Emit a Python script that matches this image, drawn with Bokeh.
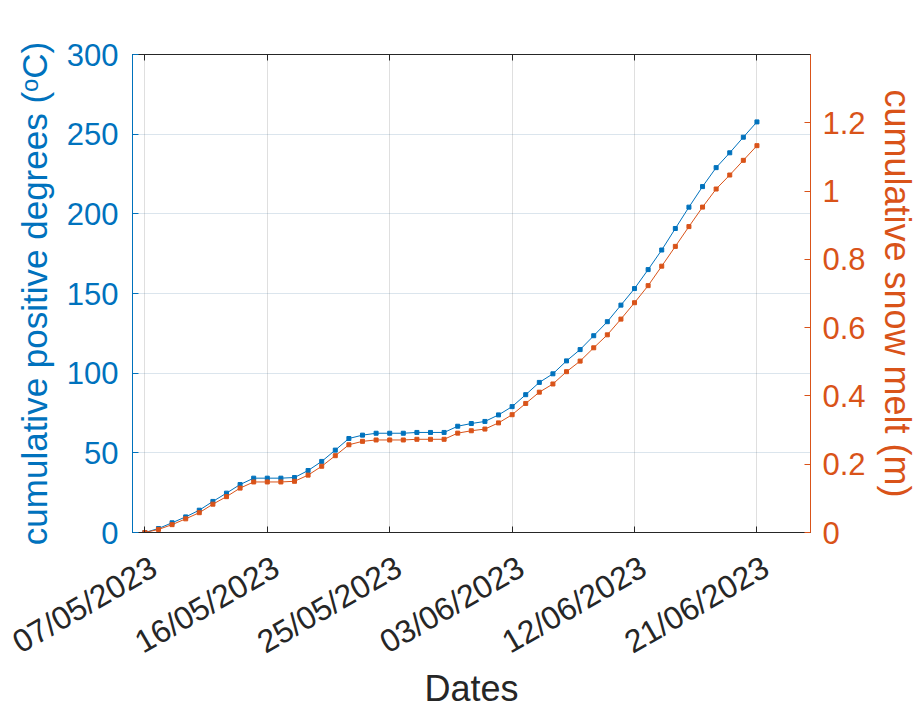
import math
import pandas as pd
from bokeh.plotting import figure
from bokeh.models import (Range1d, LinearAxis, DatetimeAxis, FixedTicker, DatetimeTickFormatter,
                          NumeralTickFormatter, CustomJSTickFormatter)
from bokeh.embed import file_html
from bokeh.resources import INLINE

# ---------------- data ----------------
start_date = "2023-05-07"
pdd = [0.0, 2.5, 6.1, 9.8, 14.0, 19.5, 24.7, 30.1, 34.1, 34.1,
       34.1, 34.5, 38.9, 44.6, 51.7, 59.0, 61.1, 62.3, 62.3, 62.3,
       62.8, 62.8, 62.8, 66.7, 68.4, 69.7, 73.8, 79.0, 86.5, 94.2,
       99.6, 107.7, 114.8, 123.5, 132.3, 142.7, 153.1, 165.0, 177.3, 190.8,
       204.2, 217.1, 229.0, 238.3, 248.1, 257.7]
melt = [0.0, 0.009, 0.023, 0.040, 0.058, 0.083, 0.105, 0.130, 0.148, 0.148,
        0.148, 0.150, 0.168, 0.194, 0.225, 0.257, 0.267, 0.271, 0.271, 0.271,
        0.273, 0.273, 0.273, 0.291, 0.298, 0.303, 0.321, 0.345, 0.378, 0.411,
        0.435, 0.471, 0.502, 0.541, 0.579, 0.625, 0.673, 0.723, 0.780, 0.838,
        0.896, 0.953, 1.006, 1.047, 1.090, 1.133]
x_tick_dates = ["2023-05-07", "2023-05-16", "2023-05-25", "2023-06-03",
                "2023-06-12", "2023-06-21"]
pdd_ticks = [0, 50, 100, 150, 200, 250, 300]
melt_ticks = [0, 0.2, 0.4, 0.6, 0.8, 1.0, 1.2]

dates = pd.date_range(start_date, periods=len(pdd), freq="D")

BLUE = "#0072BD"
ORANGE = "#D95319"
DARK = "#262626"
FONT = "Liberation Sans"

W, H = 920, 711
FL, FR, FT, FB = 132, 811, 54, 532      # frame edges (px)

x_start = pd.Timestamp("2023-05-06 02:10")
x_end = pd.Timestamp("2023-06-24 22:30")

p = figure(width=W, height=H, x_axis_type="datetime",
           x_range=Range1d(x_start, x_end), y_range=Range1d(0, 300),
           output_backend="svg", toolbar_location=None,
           min_border_left=FL, min_border_right=W - FR,
           min_border_top=FT, min_border_bottom=H - FB)
p.extra_y_ranges = {"melt": Range1d(0, 1.4)}
p.outline_line_color = DARK
p.outline_line_width = 1
p.background_fill_color = "white"
p.border_fill_color = "white"

tick_ms = [pd.Timestamp(t).value // 10**6 for t in x_tick_dates]
fmt = "%d/%m/%Y"
empty = CustomJSTickFormatter(code="return ''")

# bottom axis: tick marks only
xa = p.xaxis[0]
xa.ticker = FixedTicker(ticks=tick_ms)
xa.formatter = empty
xa.major_label_text_font_size = "1px"
xa.major_label_standoff = 0
xa.axis_line_color = DARK
xa.major_tick_line_color = DARK
xa.major_tick_in = 6
xa.major_tick_out = 0
xa.minor_tick_line_color = None

# bottom axis: rotated date labels (MATLAB anchors them at their top-right corner)
ms_per_px = (x_end - x_start).total_seconds() * 1000 / (FR - FL)
label_shift = int(9 * ms_per_px)
xl = DatetimeAxis(ticker=FixedTicker(ticks=[t + label_shift for t in tick_ms]),
                  formatter=DatetimeTickFormatter(days=fmt, months=fmt, years=fmt, hours=fmt,
                                                  hourmin=fmt, minutes=fmt, minsec=fmt,
                                                  seconds=fmt, milliseconds=fmt,
                                                  microseconds=fmt))
xl.axis_line_color = None
xl.major_tick_line_color = None
xl.minor_tick_line_color = None
xl.major_tick_in = 0
xl.major_tick_out = 0
xl.major_label_orientation = math.pi / 6
xl.major_label_text_font = FONT
xl.major_label_text_font_size = "32px"
xl.major_label_text_color = DARK
xl.major_label_standoff = 32
xl.axis_label = "Dates"
xl.axis_label_text_font = FONT
xl.axis_label_text_font_size = "36px"
xl.axis_label_text_font_style = "normal"
xl.axis_label_text_color = DARK
xl.axis_label_standoff = -11
p.add_layout(xl, "below")

# top axis (ticks only)
top = LinearAxis(ticker=FixedTicker(ticks=tick_ms), formatter=empty,
                 major_label_text_font_size="1px",
                 axis_line_color=DARK, major_tick_line_color=DARK,
                 major_tick_in=6, major_tick_out=0, minor_tick_line_color=None,
                 major_label_standoff=0)
p.add_layout(top, "above")

# left axis
ya = p.yaxis[0]
ya.ticker = FixedTicker(ticks=pdd_ticks)
ya.major_label_text_font = FONT
ya.major_label_text_font_size = "31px"
ya.major_label_text_color = BLUE
ya.major_label_standoff = 14
ya.axis_label = "cumulative positive degrees (\u1d52C)"
ya.axis_label_text_font = FONT
ya.axis_label_text_font_size = "35px"
ya.axis_label_text_font_style = "normal"
ya.axis_label_text_color = BLUE
ya.axis_label_standoff = 10
ya.axis_line_color = BLUE
ya.major_tick_line_color = BLUE
ya.major_tick_in = 6
ya.major_tick_out = 0
ya.minor_tick_line_color = None

# right axis
ra = LinearAxis(y_range_name="melt", ticker=FixedTicker(ticks=melt_ticks),
                formatter=NumeralTickFormatter(format="0.[0]"))
ra.major_label_text_font = FONT
ra.major_label_text_font_size = "31px"
ra.major_label_text_color = ORANGE
ra.major_label_standoff = 12
ra.axis_label = "cumulative snow melt (m)"
ra.axis_label_text_font = FONT
ra.axis_label_text_font_size = "36px"
ra.axis_label_text_font_style = "normal"
ra.axis_label_text_color = ORANGE
ra.axis_label_standoff = 8
ra.axis_line_color = ORANGE
ra.major_tick_line_color = ORANGE
ra.major_tick_in = 6
ra.major_tick_out = 0
ra.minor_tick_line_color = None
p.add_layout(ra, "right")

# grids
p.xgrid.ticker = FixedTicker(ticks=tick_ms)
p.xgrid.grid_line_color = DARK
p.xgrid.grid_line_alpha = 0.15
p.ygrid.ticker = FixedTicker(ticks=pdd_ticks)
p.ygrid.grid_line_color = "#3a6f99"
p.ygrid.grid_line_alpha = 0.18

# series
p.line(dates, pdd, line_color=BLUE, line_width=1)
p.scatter(dates, pdd, marker="square", size=4, fill_color=BLUE, line_color=BLUE)
p.line(dates, melt, line_color=ORANGE, line_width=1, y_range_name="melt")
p.scatter(dates, melt, marker="square", size=4, fill_color=ORANGE, line_color=ORANGE,
          y_range_name="melt")

open("out.html", "w").write(file_html(p, INLINE))
